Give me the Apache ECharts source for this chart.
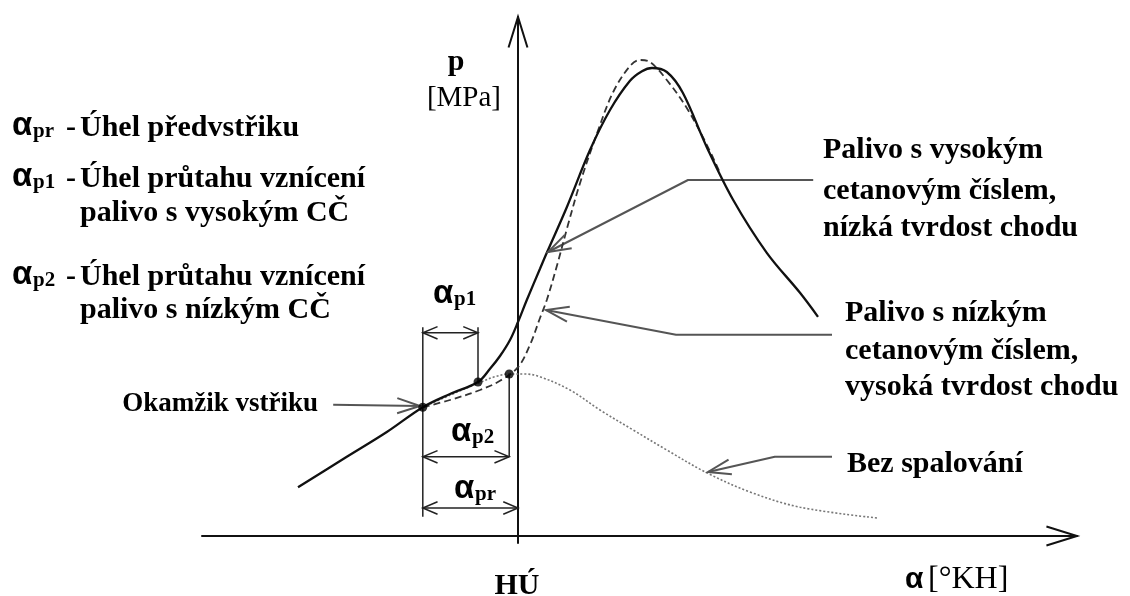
<!DOCTYPE html>
<html>
<head>
<meta charset="utf-8">
<title>Průběh tlaku ve válci</title>
<script src="https://cdn.jsdelivr.net/npm/echarts@6/dist/echarts.min.js"></script>
<style>
    html, body { margin: 0; padding: 0; background: #fff; }
    #chart { width: 1130px; height: 596px; }
</style>
</head>
<body>
<div id="chart"></div>
<script>
// osa x: úhel [°KH] vůči HÚ, osa y: tlak [MPa] (schéma)
var vysokeCC = [[-27.5, 1.22], [-21.4, 1.98], [-16.4, 2.6], [-11.9, 3.22], [-8.5, 3.55], [-5.0, 3.85],
    [-3.5, 4.18], [-2.25, 4.5], [-1.0, 4.9], [0, 5.35], [1.1, 5.9], [2.75, 6.68], [3.6, 7.08],
    [6.1, 8.22], [9.0, 9.65], [11.5, 10.65], [14.0, 11.38], [15.5, 11.62], [16.75, 11.7],
    [18.6, 11.6], [20.6, 11.08], [23.6, 9.72], [26.9, 8.4], [31.1, 7.08], [35.25, 6.08], [37.5, 5.48]];
var nizkeCC = [[-11.9, 3.22], [-8.5, 3.4], [-4.75, 3.65], [-2.25, 3.88], [0, 4.22], [1.5, 4.78],
    [2.75, 5.45], [3.6, 5.9], [4.9, 6.78], [6.25, 7.78], [7.75, 8.82], [9.9, 10.08], [11.9, 11.1],
    [14.0, 11.75], [15.25, 11.9], [16.5, 11.85], [18.6, 11.4], [21.1, 10.7], [23.6, 9.78], [25.25, 9.08]];
var bezSpalovani = [[-11.9, 3.22], [-8.5, 3.52], [-5.0, 3.82], [-2.9, 3.98], [-1.1, 4.05], [0.9, 4.05],
    [2.75, 3.98], [6.5, 3.65], [10.25, 3.15], [14.4, 2.65], [18.6, 2.15], [23.6, 1.58], [29.0, 1.1],
    [35.25, 0.72], [44.9, 0.45]];
var body = [[-11.9, 3.22], [-5.0, 3.85], [-1.1, 4.05]];

// kótovací čáry
var kotySvisle = [
    [[-11.9, 5.22], [-11.9, 0.48]],
    [[-5.0, 5.22], [-5.0, 3.85]],
    [[-1.1, 4.05], [-1.1, 1.98]]
];
var kotySipky = [
    [[-11.9, 5.08], [-5.0, 5.08]],
    [[-11.9, 1.98], [-1.1, 1.98]],
    [[-11.9, 0.7], [0, 0.7]]
];
// odkazové čáry (poslední bod = hrot šipky)
var odkazy = [
    [[36.9, 8.9], [21.25, 8.9], [3.75, 7.1]],
    [[39.25, 5.03], [19.75, 5.03], [3.5, 5.65]],
    [[39.25, 1.98], [32.1, 1.98], [23.75, 1.6]],
    [[-23.1, 3.28], [-12.25, 3.25]]
];
var osaX = [-39.5, 69.875];
var osaY = [-0.175, 12.975];

var legendaRadky = [
    { sub: 'pr', lines: ['Úhel předvstřiku'] },
    { sub: 'p1', lines: ['Úhel průtahu vznícení', 'palivo s vysokým CČ'] },
    { sub: 'p2', lines: ['Úhel průtahu vznícení', 'palivo s nízkým CČ'] }
];
var popisVysoke = ['Palivo s vysokým', 'cetanovým číslem,', 'nízká tvrdost chodu'];
var popisNizke = ['Palivo s nízkým', 'cetanovým číslem,', 'vysoká tvrdost chodu'];

var SERIF = "'Liberation Serif', 'DejaVu Serif', serif";
var SANS = "'Liberation Sans', 'DejaVu Sans', sans-serif";

var chart = echarts.init(document.getElementById('chart'));

function arrowHead(len, spread, color, width) {
    return function (params, api) {
        var tip = api.coord([api.value(0), api.value(1)]);
        var from = api.coord([api.value(2), api.value(3)]);
        var a = Math.atan2(from[1] - tip[1], from[0] - tip[0]);
        return {
            type: 'polyline',
            shape: {
                points: [
                    [tip[0] + len * Math.cos(a + spread), tip[1] + len * Math.sin(a + spread)],
                    tip,
                    [tip[0] + len * Math.cos(a - spread), tip[1] + len * Math.sin(a - spread)]
                ]
            },
            style: { stroke: color, lineWidth: width, fill: null }
        };
    };
}

function lineSeries(data, color, width, type, smooth) {
    return {
        type: 'line',
        data: data,
        showSymbol: false,
        smooth: smooth || false,
        silent: true,
        lineStyle: { color: color, width: width, type: type || 'solid' },
        z: 3
    };
}

function label(x, base, text, size, weight, family, align) {
    return {
        type: 'text',
        x: x,
        y: base - size * 0.2,
        z: 10,
        style: {
            text: text,
            fontSize: size,
            fontWeight: weight,
            fontFamily: family,
            fill: '#000',
            align: align || 'left',
            verticalAlign: 'middle'
        }
    };
}

function alphaLabel(x, base, sub) {
    return [
        label(x, base - 1, 'α', 33, 'bold', SANS),
        label(x + 21, base + 2, sub, 21, 'bold', SERIF)
    ];
}

// grafika - popisky
var texts = [];
var legendaBase = [[134], [185, 219], [283, 316]];
legendaRadky.forEach(function (r, i) {
    texts = texts.concat(alphaLabel(12, legendaBase[i][0], r.sub));
    texts.push(label(66, legendaBase[i][0], '-', 30, 'bold', SERIF));
    r.lines.forEach(function (l, j) {
        texts.push(label(80, legendaBase[i][j], l, 30, 'bold', SERIF));
    });
});
[156, 197, 234].forEach(function (b, j) {
    texts.push(label(823, b, popisVysoke[j], 30, 'bold', SERIF));
});
[319, 357, 393].forEach(function (b, j) {
    texts.push(label(845, b, popisNizke[j], 30, 'bold', SERIF));
});
texts.push(label(847, 470, 'Bez spalování', 30, 'bold', SERIF));
texts.push(label(318, 409, 'Okamžik vstřiku', 27, 'bold', SERIF, 'right'));
texts = texts.concat(alphaLabel(433, 302, 'p1'));
texts = texts.concat(alphaLabel(451, 440, 'p2'));
texts = texts.concat(alphaLabel(454, 497, 'pr'));
texts.push(label(456, 68, 'p', 30, 'bold', SERIF, 'center'));
texts.push(label(501, 104, '[MPa]', 29, 'normal', SERIF, 'right'));
texts.push(label(517, 592, 'HÚ', 30, 'bold', SERIF, 'center'));
texts.push(label(905, 586, 'α', 30, 'bold', SANS));
texts.push(label(928, 586, '[°KH]', 32, 'normal', SERIF));

var series = [];
kotySvisle.forEach(function (d) { series.push(lineSeries(d, '#222', 1.5)); });
kotySipky.forEach(function (d) { series.push(lineSeries(d, '#222', 1.5)); });
odkazy.forEach(function (d) { series.push(lineSeries(d, '#555', 2)); });
series.push(lineSeries(bezSpalovani, '#777', 1.6, [2, 2], 0.35));
series.push(lineSeries(nizkeCC, '#333', 1.8, [7, 4], 0.35));
series.push(lineSeries(vysokeCC, '#111', 2.3, 'solid', 0.35));
series.push({
    type: 'scatter',
    data: body,
    symbolSize: 9,
    itemStyle: { color: '#000' },
    silent: true,
    z: 5
});

var hlavyKot = [];
kotySipky.forEach(function (d) {
    hlavyKot.push([d[0][0], d[0][1], d[1][0], d[1][1]]);
    hlavyKot.push([d[1][0], d[1][1], d[0][0], d[0][1]]);
});
var hlavyOdkazu = odkazy.map(function (d) {
    var n = d.length;
    return [d[n - 1][0], d[n - 1][1], d[n - 2][0], d[n - 2][1]];
});
series.push({ type: 'custom', renderItem: arrowHead(16, 0.4, '#222', 1.5), data: hlavyKot, silent: true, z: 4 });
series.push({ type: 'custom', renderItem: arrowHead(24, 0.32, '#555', 2), data: hlavyOdkazu, silent: true, z: 4 });
series.push({
    type: 'custom',
    renderItem: arrowHead(32, 0.3, '#111', 2),
    data: [[osaX[1], 0, 0, 0], [0, osaY[1], 0, 0]],
    silent: true,
    z: 4
});

var option = {
    animation: false,
    backgroundColor: '#fff',
    grid: { left: 202, right: 53, top: 17, bottom: 53 },
    xAxis: {
        type: 'value',
        min: osaX[0],
        max: osaX[1],
        axisLine: { onZero: true, lineStyle: { color: '#111', width: 2 } },
        axisTick: { show: false },
        axisLabel: { show: false },
        splitLine: { show: false }
    },
    yAxis: {
        type: 'value',
        min: osaY[0],
        max: osaY[1],
        axisLine: { show: true, onZero: true, lineStyle: { color: '#111', width: 2 } },
        axisTick: { show: false },
        axisLabel: { show: false },
        splitLine: { show: false }
    },
    graphic: texts,
    series: series
};
chart.setOption(option);
</script>
</body>
</html>
